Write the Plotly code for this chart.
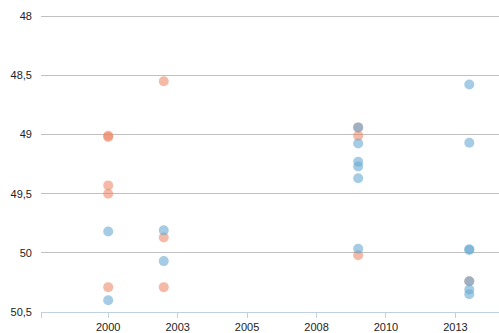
import plotly.graph_objects as go

# Data (y axis reversed)
blue_x = [2000, 2000, 2002, 2002, 2009, 2009, 2009, 2009, 2009, 2009,
          2013, 2013, 2013, 2013, 2013, 2013, 2013]
blue_y = [49.82, 50.40, 49.81, 50.07, 48.94, 49.075, 49.23, 49.27, 49.37, 49.965,
          48.578, 49.07, 49.97, 49.975, 50.24, 50.31, 50.35]

orange_x = [2000, 2000, 2000, 2000, 2000, 2002, 2002, 2002, 2009, 2009, 2009, 2013]
orange_y = [49.01, 49.02, 49.43, 49.50, 50.29, 48.55, 49.87, 50.29, 48.94, 49.01, 50.02, 50.24]

x_tickvals = [1997.58, 2000, 2002.5, 2005, 2007.5, 2010, 2012.5]
x_ticktext = ["", "2000", "2003", "2005", "2008", "2010", "2013"]
y_tickvals = [48, 48.5, 49, 49.5, 50, 50.5]
y_ticktext = ["48", "48,5", "49", "49,5", "50", "50,5"]

fig = go.Figure()
fig.add_trace(go.Scatter(
    x=orange_x, y=orange_y, mode="markers",
    marker=dict(size=10, color="rgba(236,130,95,0.55)", line=dict(width=0)),
    hoverinfo="skip", showlegend=False))
fig.add_trace(go.Scatter(
    x=blue_x, y=blue_y, mode="markers",
    marker=dict(size=10, color="rgba(105,170,210,0.6)", line=dict(width=0)),
    hoverinfo="skip", showlegend=False))

fig.update_layout(
    width=499, height=333,
    margin=dict(l=41, r=0, t=15, b=21),
    paper_bgcolor="white", plot_bgcolor="white",
    font=dict(family="Liberation Sans, Arial, sans-serif", size=11, color="#222222"),
    showlegend=False,
)
fig.update_xaxes(
    range=[1997.58, 2014.07],
    tickmode="array", tickvals=x_tickvals, ticktext=x_ticktext,
    showgrid=False, zeroline=False,
    showline=True, linecolor="#C0D0E0", linewidth=1,
    ticks="outside", ticklen=5, tickcolor="#C0D0E0", tickwidth=1,
)
fig.update_yaxes(
    range=[50.5, 47.99],
    tickmode="array", tickvals=y_tickvals, ticktext=y_ticktext,
    showgrid=True, gridcolor="#C0C0C0", gridwidth=1,
    zeroline=False, showline=False, ticks="",
    ticklabelstandoff=8,
)

fig.write_html("out.html")
